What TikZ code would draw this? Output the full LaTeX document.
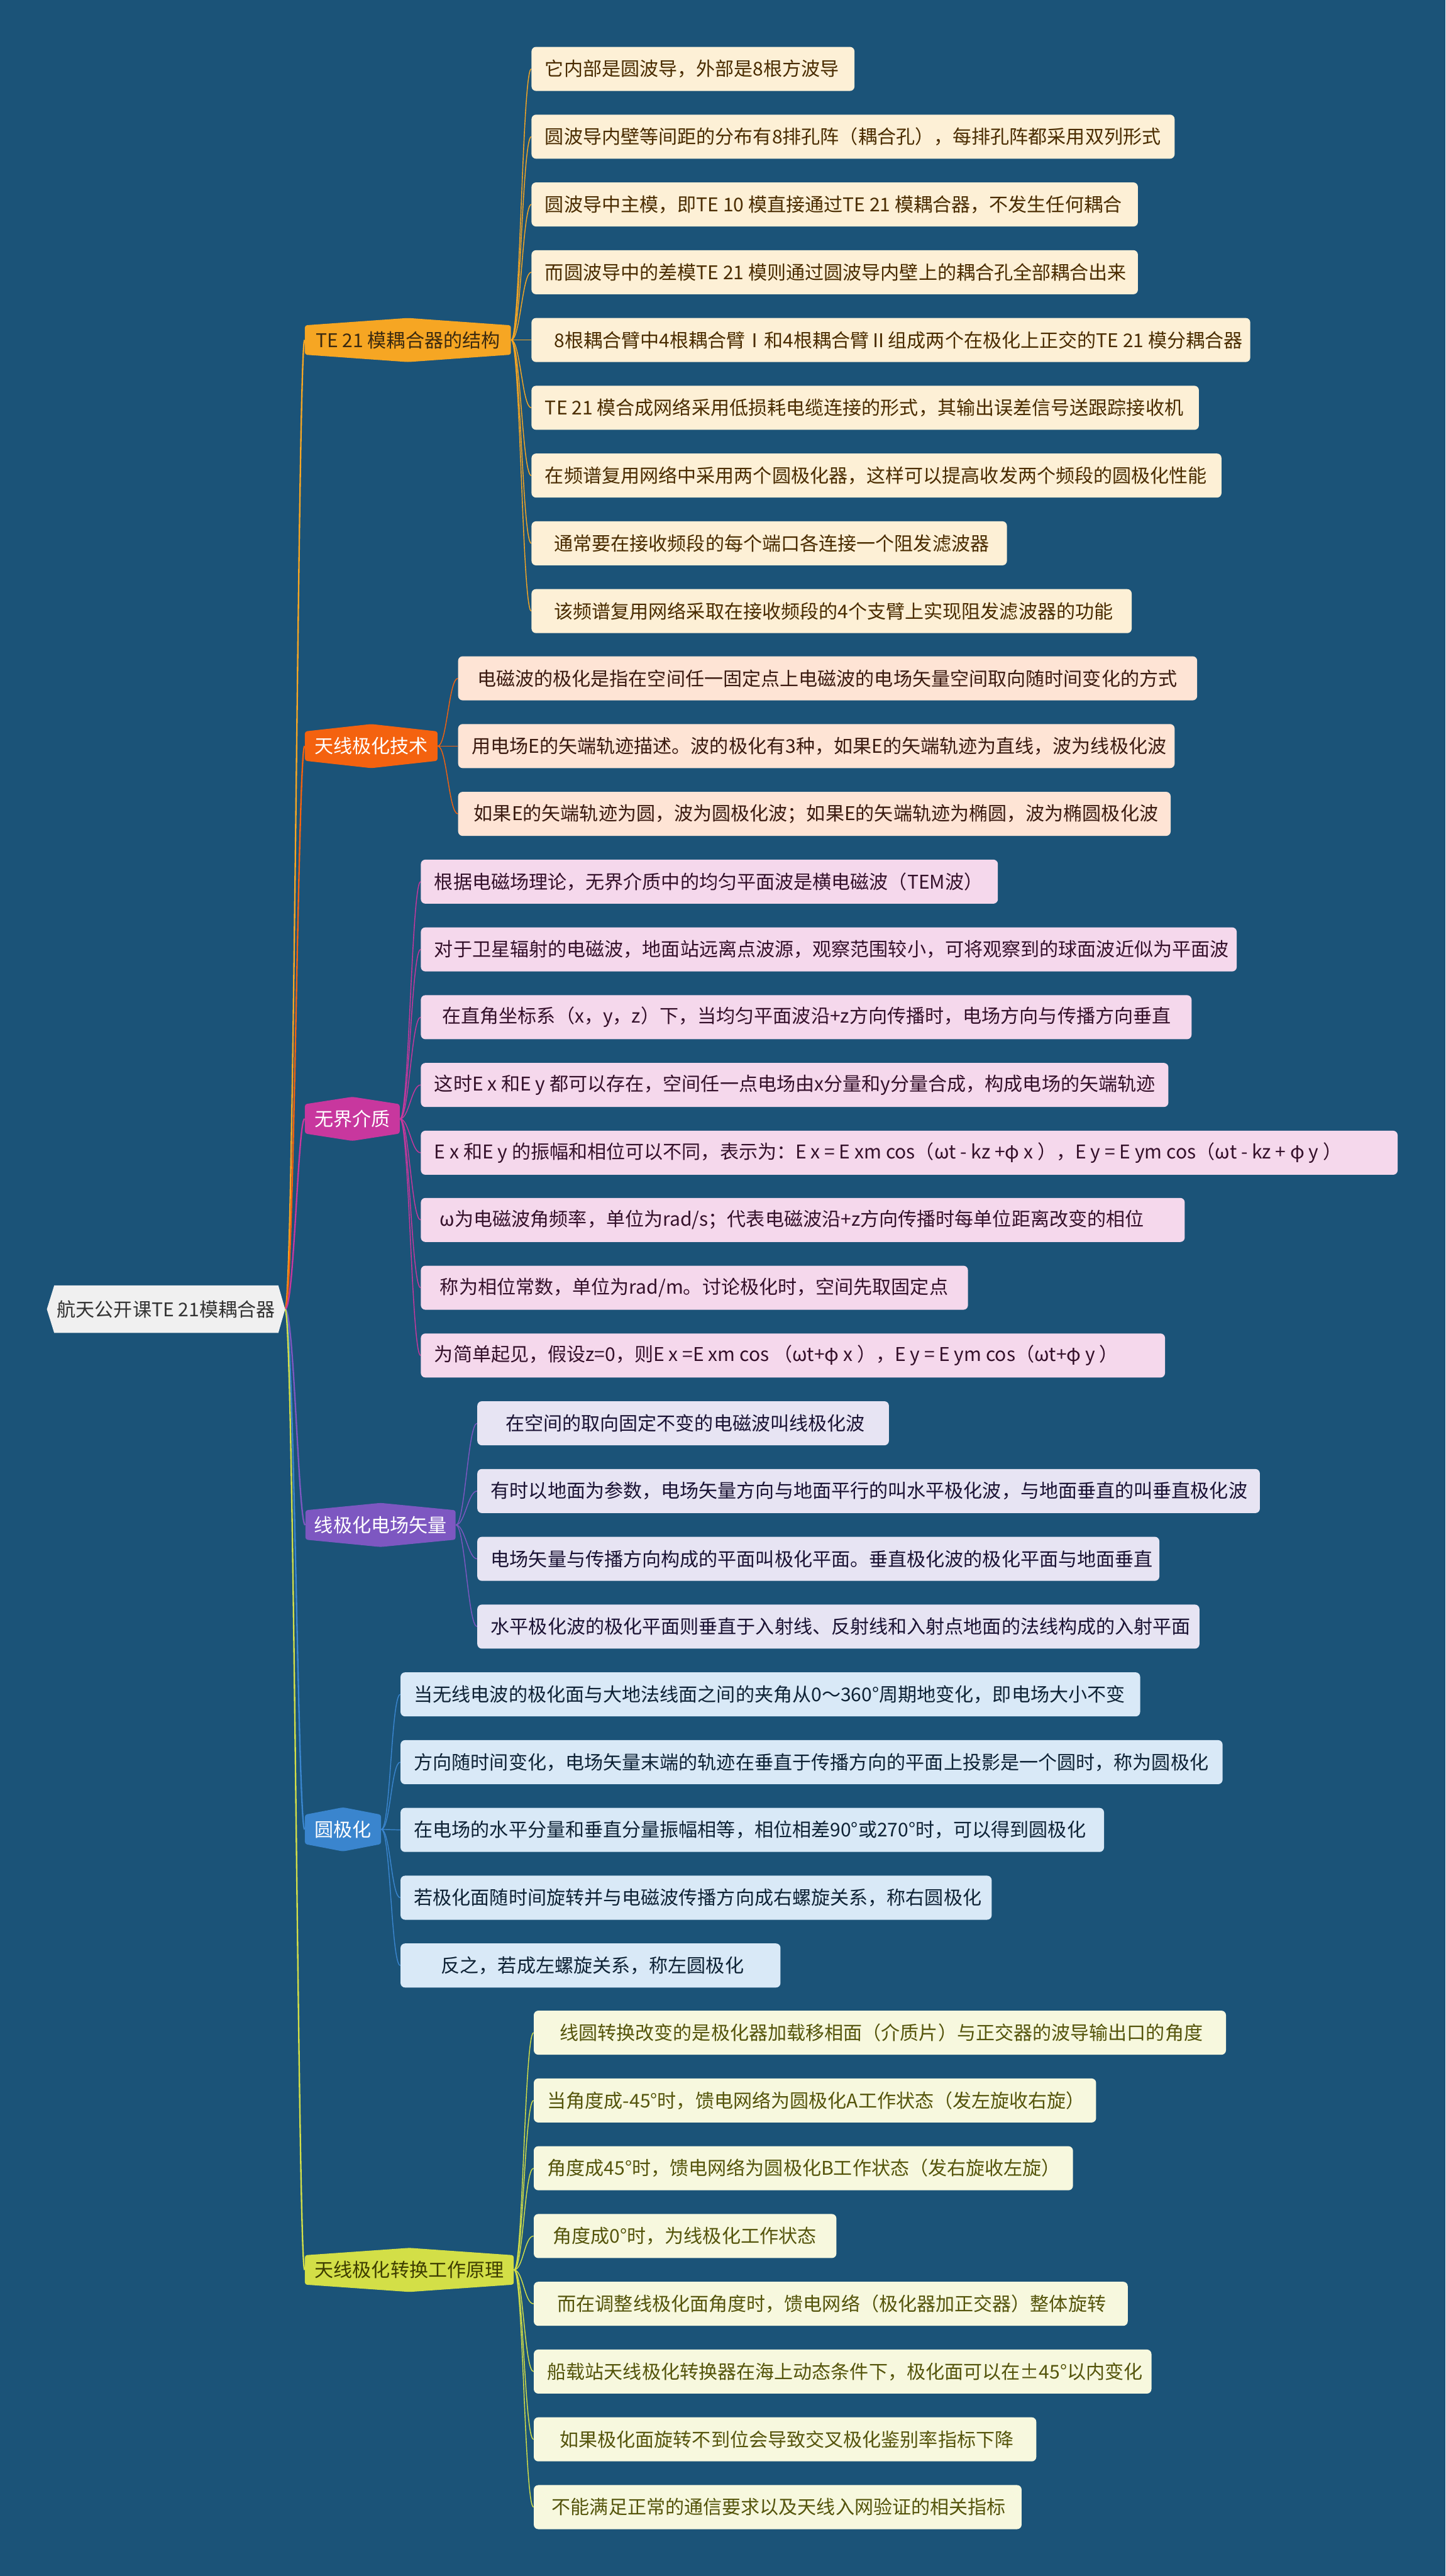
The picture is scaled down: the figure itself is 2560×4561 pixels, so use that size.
\documentclass[tikz,border=0pt]{standalone}
\usepackage{fontspec}
\setmainfont{Noto Sans CJK SC}
\usetikzlibrary{calc,backgrounds}
\definecolor{bgc}{HTML}{1B5378}
\definecolor{rootc}{HTML}{F0F0F0}
\definecolor{roottx}{HTML}{333333}
\definecolor{cA}{HTML}{F6A623}
\definecolor{cB}{HTML}{F4620F}
\definecolor{cC}{HTML}{C8379E}
\definecolor{cD}{HTML}{7D57C1}
\definecolor{cE}{HTML}{3A85CE}
\definecolor{cF}{HTML}{D3DF47}
\definecolor{fA}{HTML}{FDF0D6}
\definecolor{fB}{HTML}{FEE4D5}
\definecolor{fC}{HTML}{F5D8EC}
\definecolor{fD}{HTML}{E7E4F3}
\definecolor{fE}{HTML}{D9E9F7}
\definecolor{fF}{HTML}{F7F8DE}
\definecolor{tA}{HTML}{4A2C00}
\definecolor{tB}{HTML}{3A1A10}
\definecolor{tC}{HTML}{34102A}
\definecolor{tD}{HTML}{1A1233}
\definecolor{tE}{HTML}{0E2235}
\definecolor{tF}{HTML}{55550C}
\definecolor{tAt}{HTML}{3B2A10}
\definecolor{tFt}{HTML}{3D3D00}
\newcommand\mmfont{\fontsize{16.75pt}{20pt}\selectfont}
\tikzset{
  leaf/.style={rounded corners=4pt, minimum height=39pt, inner xsep=12pt, inner ysep=0pt, anchor=west, font=\mmfont},
  topic/.style={minimum height=39pt, inner sep=0pt, font=\mmfont},
  conn/.style={line width=0.8pt},
  trunk/.style={line width=1.3pt}
}
\newcommand\leafnode[7]{%
  \pgfmathsetmacro\lfw{(#3-#2)/2-24}%
  \node[leaf,fill=#5,text=#6] (#1) at (#2,#4) {\makebox[\lfw pt][l]{#7}};}
\newcommand\topicnode[7]{%
  \pgfmathsetmacro\tmid{(#2+#3)/2}%
  \pgfmathsetmacro\tw{(#3-#2)/2}%
  \fill[#5,rounded corners=2pt] (#2,#4-26) -- (\tmid,#4-39) -- (#3,#4-26) -- (#3,#4+26) -- (\tmid,#4+39) -- (#2,#4+26) -- cycle;
  \node[topic,text=#6,minimum width=\tw pt] (#1) at (\tmid,#4) {#7};}
\newcommand\twig[3]{\draw[conn,#1] (#2.east) .. controls ($(#2.east)+(16,0)$) and ($(#3.west)+(-16,0)$) .. (#3.west);}
\newcommand\limb[2]{\draw[trunk,#1] (roottip) .. controls ($(roottip)+(16,0)$) and ($(#2.west)+(-12,0)$) .. (#2.west);}
\begin{document}
\begin{tikzpicture}[x=0.5pt,y=-0.5pt]
\useasboundingbox (0,0) rectangle (2560,4561);
% root
\fill[rootc] (83,2318) -- (96,2276) -- (493,2276) -- (505,2318) -- (493,2360) -- (96,2360) -- cycle;
\node[topic,text=roottx] (root) at (294,2318) {航天公开课TE 21模耦合器};
\coordinate (roottip) at (505,2318);
% topics
\topicnode{t1}{540}{905}{602}{cA}{tAt}{TE 21 模耦合器的结构}
\topicnode{t2}{540}{775}{1321}{cB}{white}{天线极化技术}
\topicnode{t3}{540}{708}{1981}{cC}{white}{无界介质}
\topicnode{t4}{541}{807}{2700}{cD}{white}{线极化电场矢量}
\topicnode{t5}{540}{675}{3239}{cE}{white}{圆极化}
\topicnode{t6}{540}{910}{4019}{cF}{tFt}{天线极化转换工作原理}
% group 1
\leafnode{a1}{941}{1513}{122}{fA}{tA}{它内部是圆波导，外部是8根方波导}
\leafnode{a2}{941}{2080}{242}{fA}{tA}{圆波导内壁等间距的分布有8排孔阵（耦合孔），每排孔阵都采用双列形式}
\leafnode{a3}{941}{2015}{362}{fA}{tA}{圆波导中主模，即TE 10 模直接通过TE 21 模耦合器，不发生任何耦合}
\leafnode{a4}{941}{2015}{482}{fA}{tA}{而圆波导中的差模TE 21 模则通过圆波导内壁上的耦合孔全部耦合出来}
\leafnode{a5}{941}{2214}{602}{fA}{tA}{\hspace*{8pt}8根耦合臂中4根耦合臂Ⅰ和4根耦合臂Ⅱ组成两个在极化上正交的TE 21 模分耦合器}
\leafnode{a6}{941}{2123}{722}{fA}{tA}{TE 21 模合成网络采用低损耗电缆连接的形式，其输出误差信号送跟踪接收机}
\leafnode{a7}{941}{2163}{842}{fA}{tA}{在频谱复用网络中采用两个圆极化器，这样可以提高收发两个频段的圆极化性能}
\leafnode{a8}{941}{1783}{962}{fA}{tA}{\hspace*{8pt}通常要在接收频段的每个端口各连接一个阻发滤波器}
\leafnode{a9}{941}{2004}{1082}{fA}{tA}{\hspace*{8pt}该频谱复用网络采取在接收频段的4个支臂上实现阻发滤波器的功能}
% group 2
\leafnode{b1}{811}{2120}{1201}{fB}{tB}{\hspace*{5pt}电磁波的极化是指在空间任一固定点上电磁波的电场矢量空间取向随时间变化的方式}
\leafnode{b2}{811}{2080}{1321}{fB}{tB}{用电场E的矢端轨迹描述。波的极化有3种，如果E的矢端轨迹为直线，波为线极化波}
\leafnode{b3}{811}{2073}{1441}{fB}{tB}{\hspace*{2pt}如果E的矢端轨迹为圆，波为圆极化波；如果E的矢端轨迹为椭圆，波为椭圆极化波}
% group 3
\leafnode{c1}{745}{1767}{1561}{fC}{tC}{根据电磁场理论，无界介质中的均匀平面波是横电磁波（TEM波）}
\leafnode{c2}{745}{2190}{1681}{fC}{tC}{对于卫星辐射的电磁波，地面站远离点波源，观察范围较小，可将观察到的球面波近似为平面波}
\leafnode{c3}{745}{2110}{1801}{fC}{tC}{\hspace*{7pt}在直角坐标系（x，y，z）下，当均匀平面波沿+z方向传播时，电场方向与传播方向垂直}
\leafnode{c4}{745}{2069}{1921}{fC}{tC}{这时E x 和E y 都可以存在，空间任一点电场由x分量和y分量合成，构成电场的矢端轨迹}
\leafnode{c5}{745}{2475}{2041}{fC}{tC}{E x 和E y 的振幅和相位可以不同，表示为：E x = E xm cos（ωt - kz +φ x ），E y = E ym cos（ωt - kz + φ y ）}
\leafnode{c6}{745}{2098}{2160}{fC}{tC}{\hspace*{5pt}ω为电磁波角频率，单位为rad/s；代表电磁波沿+z方向传播时每单位距离改变的相位}
\leafnode{c7}{745}{1714}{2280}{fC}{tC}{\hspace*{5pt}称为相位常数，单位为rad/m。讨论极化时，空间先取固定点}
\leafnode{c8}{745}{2063}{2400}{fC}{tC}{为简单起见，假设z=0，则E x =E xm cos （ωt+φ x ），E y = E ym cos（ωt+φ y ）}
% group 4
\leafnode{d1}{845}{1574}{2520}{fD}{tD}{\hspace*{13pt}在空间的取向固定不变的电磁波叫线极化波}
\leafnode{d2}{845}{2231}{2640}{fD}{tD}{有时以地面为参数，电场矢量方向与地面平行的叫水平极化波，与地面垂直的叫垂直极化波}
\leafnode{d3}{845}{2053}{2760}{fD}{tD}{电场矢量与传播方向构成的平面叫极化平面。垂直极化波的极化平面与地面垂直}
\leafnode{d4}{845}{2124}{2880}{fD}{tD}{水平极化波的极化平面则垂直于入射线、反射线和入射点地面的法线构成的入射平面}
% group 5
\leafnode{e1}{709}{2019}{3000}{fE}{tE}{当无线电波的极化面与大地法线面之间的夹角从0～360°周期地变化，即电场大小不变}
\leafnode{e2}{709}{2165}{3120}{fE}{tE}{方向随时间变化，电场矢量末端的轨迹在垂直于传播方向的平面上投影是一个圆时，称为圆极化}
\leafnode{e3}{709}{1955}{3240}{fE}{tE}{在电场的水平分量和垂直分量振幅相等，相位相差90°或270°时，可以得到圆极化}
\leafnode{e4}{709}{1756}{3360}{fE}{tE}{若极化面随时间旋转并与电磁波传播方向成右螺旋关系，称右圆极化}
\leafnode{e5}{709}{1382}{3480}{fE}{tE}{\hspace*{24pt}反之，若成左螺旋关系，称左圆极化}
% group 6
\leafnode{f1}{945}{2171}{3599}{fF}{tF}{\hspace*{11pt}线圆转换改变的是极化器加载移相面（介质片）与正交器的波导输出口的角度}
\leafnode{f2}{945}{1941}{3719}{fF}{tF}{当角度成-45°时，馈电网络为圆极化A工作状态（发左旋收右旋）}
\leafnode{f3}{945}{1900}{3839}{fF}{tF}{角度成45°时，馈电网络为圆极化B工作状态（发右旋收左旋）}
\leafnode{f4}{945}{1481}{3959}{fF}{tF}{\hspace*{5pt}角度成0°时，为线极化工作状态}
\leafnode{f5}{945}{1997}{4079}{fF}{tF}{\hspace*{9pt}而在调整线极化面角度时，馈电网络（极化器加正交器）整体旋转}
\leafnode{f6}{945}{2039}{4199}{fF}{tF}{船载站天线极化转换器在海上动态条件下，极化面可以在±45°以内变化}
\leafnode{f7}{945}{1835}{4319}{fF}{tF}{\hspace*{11pt}如果极化面旋转不到位会导致交叉极化鉴别率指标下降}
\leafnode{f8}{945}{1809}{4439}{fF}{tF}{\hspace*{4pt}不能满足正常的通信要求以及天线入网验证的相关指标}
\begin{pgfonlayer}{background}
\fill[bgc] (0,0) rectangle (2560,4561);
\limb{cA}{t1}
\limb{cB}{t2}
\limb{cC}{t3}
\limb{cD}{t4}
\limb{cE}{t5}
\limb{cF}{t6}
\foreach \n in {a1,a2,a3,a4,a5,a6,a7,a8,a9}{\twig{cA}{t1}{\n}}
\foreach \n in {b1,b2,b3}{\twig{cB}{t2}{\n}}
\foreach \n in {c1,c2,c3,c4,c5,c6,c7,c8}{\twig{cC}{t3}{\n}}
\foreach \n in {d1,d2,d3,d4}{\twig{cD}{t4}{\n}}
\foreach \n in {e1,e2,e3,e4,e5}{\twig{cE}{t5}{\n}}
\foreach \n in {f1,f2,f3,f4,f5,f6,f7,f8}{\twig{cF}{t6}{\n}}
\end{pgfonlayer}
\end{tikzpicture}
\end{document}
